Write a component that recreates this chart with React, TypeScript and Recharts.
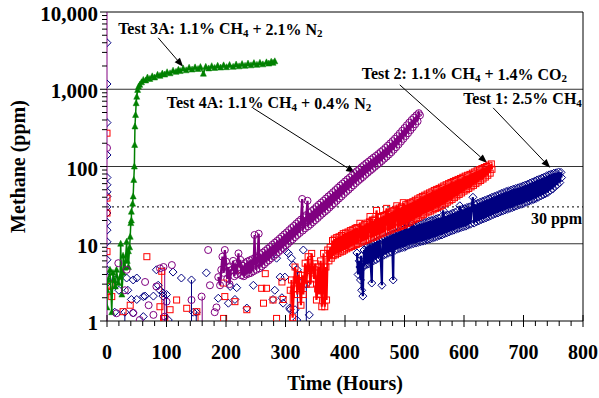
import React from "react";
import { ScatterChart, Scatter, XAxis, YAxis, ReferenceLine, Label } from "recharts";

type Pt = [number, number];

// axis ticks
const xTicks = [0, 20, 40, 60, 80, 100, 120, 140, 160, 180, 200, 220, 240, 260, 280, 300, 320, 340, 360, 380, 400, 420, 440, 460, 480, 500, 520, 540, 560, 580, 600, 620, 640, 660, 680, 700, 720, 740, 760, 780, 800];
const xMajor = [0, 100, 200, 300, 400, 500, 600, 700, 800];
const yTicks = [1, 2, 3, 4, 5, 6, 7, 8, 9, 10, 20, 30, 40, 50, 60, 70, 80, 90, 100, 200, 300, 400, 500, 600, 700, 800, 900, 1000, 2000, 3000, 4000, 5000, 6000, 7000, 8000, 9000, 10000];
const yMajor = [1, 10, 100, 1000, 10000];
const gridLevels = [10, 100, 1000];
const thresholdPpm = 30;

// Test 1: 2.5% CH4 (hours, ppm)
const test1Scatter: Pt[] = [[0, 4000], [0, 1170], [0, 370], [0, 141], [0, 72], [0, 58], [0, 47], [0, 41], [0, 30], [0, 25], [0, 19], [0, 15], [0, 10.6], [0, 6.2], [0, 4.6], [0, 3.7], [0, 3.1], [13, 3.4], [13, 1.3], [20, 2.5], [30, 1.3], [33, 3.6], [35, 2.5], [41, 1.9], [44, 3.4], [44, 1.27], [50, 3.6], [50, 1.9], [61, 2.07], [61, 1.14], [64, 2.1], [78, 2.1], [83, 4.6], [86, 2.9], [89, 2.5], [94, 2.3], [94, 2.1], [100, 2.2], [103, 1.03], [111, 4.3], [125, 3.6], [142, 3.4], [145, 1.3], [150, 1.3], [167, 4.2], [187, 1.97], [204, 1.7], [207, 2.8], [215, 1.9], [218, 2.7], [235, 1.47], [246, 2.9], [279, 1.9], [282, 2.5], [285, 6.5], [291, 3.7], [294, 2.0], [296, 1.7], [299, 3.7], [302, 7.9], [305, 7.5], [307, 1.47], [308, 1.4], [310, 6.5], [313, 5.3], [316, 1.4], [319, 1.03], [320, 4.6], [324, 3.1], [330, 8.3], [335, 3.0], [340, 1.2]];
const test1Trace: Pt[] = [[420, 7.6], [422, 4.0], [424, 6.0], [425, 5.0], [426, 3.4], [427, 7.0], [428, 2.5], [429, 5.5], [430, 2.1], [431, 5.0], [432, 8.3], [433, 5.3], [435, 9.2], [437, 5.4], [439, 9.4], [440, 5.5], [442, 9.8], [443, 5.8], [445, 3.1], [446, 10], [448, 6.0], [450, 10.5], [452, 6.2], [454, 10.8], [456, 6.5], [458, 11.2], [460, 6.8], [462, 2.9], [463, 11.5], [465, 7.1], [467, 12], [469, 7.3], [471, 12.4], [473, 7.6], [475, 12.8], [477, 7.8], [479, 13.2], [481, 3.4], [482, 13.5], [484, 8.2], [486, 14], [488, 8.5], [490, 14.4], [492, 8.7], [494, 14.8], [496, 8.9], [498, 15.2], [500, 9.0], [501, 18.5], [503, 9.3], [505, 15.8], [507, 9.6], [509, 16.2], [511, 9.8], [513, 18], [515, 10], [517, 17], [519, 10.2], [521, 17.5], [523, 10.4], [525, 18], [527, 10.6], [529, 18.4], [531, 10.8], [533, 18.8], [535, 11], [537, 19.2], [539, 11.3], [541, 19.6], [543, 11.5], [545, 20], [547, 11.8], [549, 20.5], [551, 12.1], [553, 21], [555, 12.4], [557, 21.5], [559, 12.8], [561, 22], [563, 13], [565, 27], [567, 13.4], [569, 23], [571, 13.8], [573, 23.5], [575, 14.2], [577, 24], [579, 14.6], [581, 25], [583, 15], [585, 25.5], [587, 15.4], [589, 26.5], [591, 15.8], [593, 31], [595, 16.2], [597, 28], [599, 16.5], [601, 28.5], [603, 16.9], [605, 29.5], [607, 17.4], [609, 30], [611, 17.9], [613, 31], [615, 40], [617, 18.5], [619, 32.5], [621, 19.2], [623, 33.5], [625, 19.8], [627, 34.5], [629, 20.5], [631, 35.5], [633, 21], [635, 36.5], [637, 21.6], [639, 37.5], [641, 22.2], [643, 38.5], [645, 23], [647, 40], [649, 23.8], [651, 41], [653, 24.5], [655, 42], [657, 25], [659, 43.5], [661, 25.8], [663, 45], [665, 26.5], [667, 46], [669, 27.3], [671, 47.5], [673, 28], [675, 48.5], [677, 28.7], [679, 49.5], [681, 29.3], [683, 51], [685, 30.2], [687, 52], [689, 31], [691, 53], [693, 31.8], [695, 54.5], [697, 32.5], [699, 56], [701, 33.4], [703, 57.5], [705, 34.5], [707, 59], [709, 35.5], [711, 61], [713, 36.5], [715, 63], [717, 37.5], [719, 65], [721, 38.5], [723, 67], [725, 40], [727, 69], [729, 41.5], [731, 71], [733, 43], [735, 73], [737, 44.5], [739, 76], [741, 46], [743, 78], [745, 49], [747, 80], [749, 51], [751, 82], [753, 55], [755, 83], [757, 58], [759, 85], [761, 62], [763, 84], [764, 72]];
const test1Stems: Pt[] = [[30, 1.3], [100, 2.2], [142, 3.4], [150, 1.3], [320, 4.6], [335, 3.0]];

// Test 2: 1.1% CH4 + 1.4% CO2
const test2Scatter: Pt[] = [[0, 270], [0, 39], [0, 25], [0, 7.9], [1, 2.8], [3, 2.4], [5, 3.0], [8, 2.07], [27, 1.32], [39, 1.6], [67, 6.8], [89, 1.53], [92, 4.4], [95, 1.08], [97, 1.08], [106, 1.4], [117, 1.87], [134, 1.46], [151, 1.32], [196, 1.08], [196, 3.1], [198, 2.07], [215, 1.78], [224, 4.6], [235, 1.4], [260, 2.65], [263, 1.7], [266, 4.1], [268, 2.65], [279, 1.87], [285, 1.08], [294, 3.2], [296, 1.9], [308, 2.5]];
const test2Trace: Pt[] = [[310, 3.4], [312, 1.1], [314, 2.6], [316, 5.0], [318, 3.4], [320, 2.2], [322, 4.0], [324, 2.8], [326, 1.6], [328, 3.9], [330, 2.2], [333, 5.6], [335, 3.0], [338, 6.8], [340, 4.5], [342, 3.0], [344, 7.5], [346, 5.0], [348, 3.5], [350, 5.5], [352, 1.87], [354, 2.6], [355, 5.0], [357, 2.2], [359, 6.0], [361, 1.53], [363, 4.0], [364, 7.5], [366, 1.53], [368, 5.0], [369, 1.87], [371, 8.3], [373, 6.0], [375, 9.0], [377, 6.5], [379, 11], [380, 7.0], [382, 11.5], [384, 7.2], [386, 12], [388, 7.5], [390, 12.3], [392, 7.8], [394, 12.8], [396, 8.0], [397, 13.5], [399, 8.3], [401, 13.8], [403, 8.6], [405, 14.2], [407, 8.9], [409, 14.8], [411, 9.2], [413, 15.2], [415, 9.5], [417, 15.8], [419, 9.8], [420, 16.2], [422, 10.1], [425, 18.4], [427, 10.5], [429, 17], [431, 10.8], [433, 17.8], [435, 11.1], [437, 18.5], [439, 11.4], [441, 19.2], [442, 22.5], [444, 11.8], [446, 20], [448, 12.1], [450, 20.8], [452, 12.5], [453, 27], [455, 12.9], [457, 21.8], [459, 13.3], [461, 22.5], [463, 13.7], [465, 23.2], [467, 14.1], [469, 24], [470, 28.7], [472, 14.6], [474, 25], [476, 15], [478, 26], [480, 15.5], [482, 27], [484, 15.9], [486, 28], [487, 31], [489, 16.3], [491, 29], [493, 16.8], [495, 30], [497, 17.2], [498, 34], [500, 17.6], [502, 32], [504, 18.3], [506, 33], [508, 19], [510, 34], [512, 19.7], [514, 35], [516, 20.5], [518, 36.5], [520, 21.3], [522, 38], [524, 22], [526, 39.5], [528, 23], [530, 41], [532, 24], [534, 42.5], [536, 25], [538, 44], [540, 25.8], [542, 45.5], [544, 26.5], [546, 47], [548, 27.5], [550, 49], [552, 28.5], [554, 50.5], [556, 29.5], [558, 52], [560, 30.5], [562, 54], [564, 31.5], [566, 56], [568, 33], [570, 58], [572, 34.5], [574, 60], [576, 36], [578, 62], [580, 37.5], [582, 64], [584, 39.5], [586, 66], [588, 41.5], [590, 68], [592, 43.5], [594, 70], [596, 45.5], [598, 72.5], [600, 48], [602, 75], [604, 50], [606, 77], [608, 52], [610, 79], [612, 54.5], [614, 82], [616, 57], [618, 85], [620, 60], [622, 88], [624, 63], [626, 91], [628, 66], [630, 94], [632, 69], [634, 97], [636, 73], [638, 100], [640, 77], [642, 104], [644, 82], [646, 108], [647, 92]];
const test2Stems: Pt[] = [[92, 4.4], [153, 1.32], [308, 2.5]];

// Test 3A: 1.1% CH4 + 2.1% N2
const test3aTrace: Pt[] = [[0, 1.5], [0, 2.5], [2, 3.4], [5, 4.6], [8, 1.3], [10, 4.2], [12, 3.4], [14, 2.8], [16, 4.6], [19, 3.1], [22, 3.7], [23, 10], [25, 2.2], [27, 4.2], [27, 7], [30, 4.9], [33, 10.6], [34, 6], [36, 8], [36, 5], [38, 9], [39, 12.3], [40, 18.5], [41, 20], [41, 26], [43, 33], [44, 41], [45, 67], [46, 100], [46.5, 190], [47, 330], [48, 465], [49, 660], [50, 800], [51.5, 980], [53, 1080], [55, 1140], [58, 1230], [61, 1320], [65, 1300], [68, 1420], [72, 1360], [76, 1470], [80, 1420], [85, 1540], [89, 1490], [93, 1600], [97, 1550], [101, 1660], [106, 1610], [111, 1740], [116, 1680], [120, 1790], [123, 1720], [128, 1860], [133, 1760], [138, 1900], [143, 1800], [148, 1920], [153, 1830], [157, 1940], [162, 1590], [166, 1950], [171, 1860], [176, 1990], [181, 1890], [186, 2010], [191, 1910], [196, 2040], [201, 1930], [206, 2060], [212, 1950], [217, 2090], [222, 1980], [227, 2120], [232, 2010], [237, 2150], [242, 2040], [247, 2180], [252, 2070], [257, 2200], [262, 2100], [268, 2230], [272, 2150], [276, 2270], [279, 2200], [282, 2300]];

// Test 4A: 1.1% CH4 + 0.4% N2
const test4aScatter: Pt[] = [[0, 174], [16, 1.26], [19, 5.6], [30, 2.5], [33, 4.6], [44, 1.27], [55, 1.03], [64, 3.2], [70, 1.6], [78, 1.2], [83, 2.8], [89, 4.8], [95, 5.0], [97, 1.14], [100, 1.78], [109, 5.3], [142, 1.87], [159, 2.07], [170, 8.3], [173, 2.9], [181, 1.3], [184, 1.5]];
const test4aTrace: Pt[] = [[187, 3.7], [190, 2.9], [192, 4.6], [194, 6.8], [196, 4.2], [198, 8.3], [200, 5.9], [202, 3.5], [204, 5.0], [206, 3.0], [208, 4.5], [210, 4.6], [212, 6.0], [214, 3.8], [216, 5.5], [218, 4.0], [221, 7.5], [222, 5.0], [224, 6.2], [226, 3.9], [228, 5.2], [230, 3.8], [232, 5.6], [234, 4.0], [236, 5.9], [238, 4.1], [240, 6.1], [242, 4.2], [244, 6.3], [246, 4.4], [248, 13], [249, 6.6], [251, 4.6], [253, 6.9], [255, 13.5], [256, 4.8], [258, 7.3], [260, 5.1], [262, 7.7], [264, 5.4], [266, 8.1], [268, 5.8], [270, 8.6], [272, 6.1], [274, 9.1], [276, 6.5], [278, 9.7], [280, 6.9], [282, 10.3], [284, 7.3], [286, 10.9], [288, 7.8], [290, 11.6], [292, 8.3], [294, 12.4], [296, 8.8], [298, 13.2], [300, 9.4], [302, 14], [304, 10], [306, 15], [308, 10.7], [310, 16], [312, 11.4], [314, 17], [316, 12.2], [318, 18.2], [320, 13], [322, 19.4], [324, 13.8], [326, 20.6], [328, 38], [329, 14.8], [331, 22], [333, 15.8], [335, 23.5], [337, 36], [338, 16.8], [340, 25], [342, 17.8], [344, 26.5], [346, 19], [348, 28], [350, 20.2], [352, 30], [354, 21.5], [356, 32], [358, 23], [360, 34], [362, 24.5], [364, 36], [366, 26], [368, 38.5], [370, 27.5], [372, 41], [374, 29.5], [376, 43.5], [378, 31.5], [380, 46.5], [382, 33.5], [384, 49.5], [386, 36], [388, 53], [390, 38.5], [392, 56.5], [394, 41], [396, 60], [398, 44], [400, 64], [402, 47], [404, 68], [406, 50], [408, 72], [410, 53.5], [412, 77], [414, 57], [416, 82], [418, 61], [420, 87], [422, 65], [424, 92], [426, 69], [428, 98], [430, 73], [432, 104], [434, 78], [436, 110], [438, 83], [440, 116], [442, 88], [444, 123], [446, 93], [448, 130], [450, 99], [452, 137], [454, 105], [456, 145], [458, 111], [460, 154], [462, 118], [464, 163], [466, 126], [468, 174], [470, 134], [472, 186], [474, 143], [476, 199], [478, 153], [480, 213], [482, 165], [484, 229], [486, 178], [488, 247], [490, 193], [492, 268], [494, 210], [496, 290], [498, 228], [500, 315], [502, 248], [504, 342], [506, 270], [508, 370], [510, 295], [512, 400], [514, 322], [516, 430], [518, 352], [520, 460], [522, 385], [524, 490], [526, 460]];
const test4aStems: Pt[] = [[97, 5.0], [160, 2.07]];

// annotation arrows: text, arrow tail (hours, ppm), arrow head (hours, ppm)
const notes = [
  { main: "Test 3A: 1.1% CH", sub1: "4", mid: " + 2.1% N", sub2: "2", from: [86, 4630], to: [128, 1950], dx: -40, dy: -9 },
  { main: "Test 4A: 1.1% CH", sub1: "4", mid: " + 0.4% N", sub2: "2", from: [245, 574], to: [417, 83], dx: -86, dy: -5 },
  { main: "Test 2: 1.1% CH", sub1: "4", mid: " + 1.4% CO", sub2: "2", from: [492, 1140], to: [639, 111], dx: -38, dy: -11 },
  { main: "Test 1: 2.5% CH", sub1: "4", mid: "", sub2: "", from: [649, 574], to: [745, 96], dx: -30, dy: -9 },
];

const NAVY = "#000080";
const RED = "#FF0000";
const GREEN = "#008000";
const PURPLE = "#800080";
const FONT = "'Liberation Serif', 'Times New Roman', serif";

const pts = (a: Pt[]) => a.map(([hours, ppm]) => ({ hours, ppm }));

const diamond = (p: any) => {
  const { cx, cy } = p;
  const s = 4;
  return <path d={`M${cx},${cy - s}L${cx + s},${cy}L${cx},${cy + s}L${cx - s},${cy}Z`} fill="none" stroke={NAVY} strokeWidth={1} />;
};
const square = (p: any) => <rect x={p.cx - 3} y={p.cy - 3} width={6} height={6} fill="none" stroke={RED} strokeWidth={1} />;
const circle = (p: any) => <circle cx={p.cx} cy={p.cy} r={3.5} fill="none" stroke={PURPLE} strokeWidth={1} />;
const triangle = (p: any) => {
  const { cx, cy } = p;
  return <path d={`M${cx},${cy - 3.5}L${cx + 3},${cy + 2.5}L${cx - 3},${cy + 2.5}Z`} fill={GREEN} stroke={GREEN} strokeWidth={0.5} />;
};

const XTick = (p: any) => {
  const { x, y, payload } = p;
  const major = xMajor.includes(payload.value);
  return (
    <g>
      <line x1={x} x2={x} y1={major ? y - 6 : y} y2={major ? y + 6 : y + 5} stroke="#000" />
      {major && (
        <text x={x} y={y + 31} textAnchor="middle" dominantBaseline="central" fontFamily={FONT} fontWeight="bold" fontSize={20} fill="#000">
          {payload.value}
        </text>
      )}
    </g>
  );
};

const YTick = (p: any) => {
  const { x, y, payload } = p;
  const major = yMajor.includes(payload.value);
  return (
    <g>
      <line x1={major ? x - 7 : x - 5} x2={x} y1={y} y2={y} stroke="#000" />
      {major && (
        <text x={x - 9} y={y + 2} textAnchor="end" dominantBaseline="central" fontFamily={FONT} fontWeight="bold" fontSize={21} fill="#000">
          {payload.value.toLocaleString("en-US")}
        </text>
      )}
    </g>
  );
};

const XTitle = (p: any) => {
  const vb = p.viewBox;
  return (
    <text x={vb.x + vb.width / 2} y={vb.y + 62} textAnchor="middle" dominantBaseline="central" fontFamily={FONT} fontWeight="bold" fontSize={20} fill="#000">
      Time (Hours)
    </text>
  );
};

const YTitle = (p: any) => {
  const vb = p.viewBox;
  const cx = vb.x + 18;
  const cy = vb.y + vb.height / 2;
  return (
    <text x={cx} y={cy} transform={`rotate(-90 ${cx} ${cy})`} textAnchor="middle" dominantBaseline="central" fontFamily={FONT} fontWeight="bold" fontSize={20} fill="#000">
      Methane (ppm)
    </text>
  );
};

const ThresholdLabel = (p: any) => {
  const vb = p.viewBox;
  return (
    <text x={vb.x + vb.width - 1} y={vb.y + 12} textAnchor="end" dominantBaseline="central" fontFamily={FONT} fontWeight="bold" fontSize={16} fill="#000">
      {thresholdPpm} ppm
    </text>
  );
};

const arrowShape = (n: (typeof notes)[number]) => (p: any) => {
  const { x1, y1, x2, y2 } = p;
  const ang = Math.atan2(y2 - y1, x2 - x1);
  const len = 9;
  const w = 3.5;
  const bx = x2 - len * Math.cos(ang);
  const by = y2 - len * Math.sin(ang);
  const nx = -Math.sin(ang) * w;
  const ny = Math.cos(ang) * w;
  return (
    <g>
      <line x1={x1} y1={y1} x2={bx} y2={by} stroke="#000" strokeWidth={1} />
      <polygon points={`${x2},${y2} ${bx + nx},${by + ny} ${bx - nx},${by - ny}`} fill="#000" />
      <text x={x1 + n.dx} y={y1 + n.dy} dominantBaseline="central" fontFamily={FONT} fontWeight="bold" fontSize={16} fill="#000">
        {n.main}
        <tspan dy={4} fontSize={11}>{n.sub1}</tspan>
        {n.mid && <tspan dy={-4} fontSize={16}>{n.mid}</tspan>}
        {n.sub2 && <tspan dy={4} fontSize={11}>{n.sub2}</tspan>}
      </text>
    </g>
  );
};

const stems = (list: Pt[], color: string, prefix: string) =>
  list.map(([h, v], i) => (
    <ReferenceLine key={`${prefix}${i}`} segment={[{ x: h, y: v }, { x: h, y: 1 }]} stroke={color} strokeWidth={1} />
  ));

export default function App() {
  return (
    <div style={{ position: "absolute", left: 0, top: 0, width: 599, height: 398, background: "#fff" }}>
      <ScatterChart width={599} height={398} margin={{ top: 12, right: 16, bottom: 17, left: 0 }}>
        <XAxis
          type="number"
          dataKey="hours"
          domain={[0, 800]}
          ticks={xTicks}
          interval={0}
          allowDataOverflow
          tickSize={0}
          tickMargin={0}
          tickLine={false}
          tick={<XTick />}
          axisLine={{ stroke: "#000" }}
          height={60}
          label={<Label content={XTitle} />}
        />
        <YAxis
          type="number"
          dataKey="ppm"
          scale="log"
          domain={[1, 10000]}
          ticks={yTicks}
          interval={0}
          allowDataOverflow
          tickSize={0}
          tickMargin={0}
          tickLine={false}
          tick={<YTick />}
          axisLine={{ stroke: PURPLE }}
          width={107}
          label={<Label content={YTitle} />}
        />
        {gridLevels.map((g) => (
          <ReferenceLine key={`g${g}`} y={g} stroke="#333" strokeWidth={1} />
        ))}
        <ReferenceLine y={10000} stroke="#000" strokeWidth={1} />
        <ReferenceLine x={800} stroke="#000" strokeWidth={1} />
        <ReferenceLine y={thresholdPpm} stroke="#000" strokeWidth={1} strokeDasharray="2 3" label={<Label content={ThresholdLabel} />} />

        {stems(test1Stems, NAVY, "s1")}
        {stems(test2Stems, RED, "s2")}
        {stems(test4aStems, PURPLE, "s4")}

        <Scatter data={pts(test1Scatter)} shape={diamond} isAnimationActive={false} />
        <Scatter data={pts(test1Trace)} shape={diamond} line={{ stroke: NAVY, strokeWidth: 2.2 }} isAnimationActive={false} />
        <Scatter data={pts(test2Scatter)} shape={square} isAnimationActive={false} />
        <Scatter data={pts(test2Trace)} shape={square} line={{ stroke: RED, strokeWidth: 2.2 }} isAnimationActive={false} />
        <Scatter data={pts(test3aTrace)} shape={triangle} line={{ stroke: GREEN, strokeWidth: 1.5 }} isAnimationActive={false} />
        <Scatter data={pts(test4aScatter)} shape={circle} isAnimationActive={false} />
        <Scatter data={pts(test4aTrace)} shape={circle} line={{ stroke: PURPLE, strokeWidth: 2.2 }} isAnimationActive={false} />

        {notes.map((n, i) => (
          <ReferenceLine
            key={`n${i}`}
            segment={[{ x: n.from[0], y: n.from[1] }, { x: n.to[0], y: n.to[1] }]}
            shape={arrowShape(n)}
          />
        ))}
      </ScatterChart>
    </div>
  );
}
